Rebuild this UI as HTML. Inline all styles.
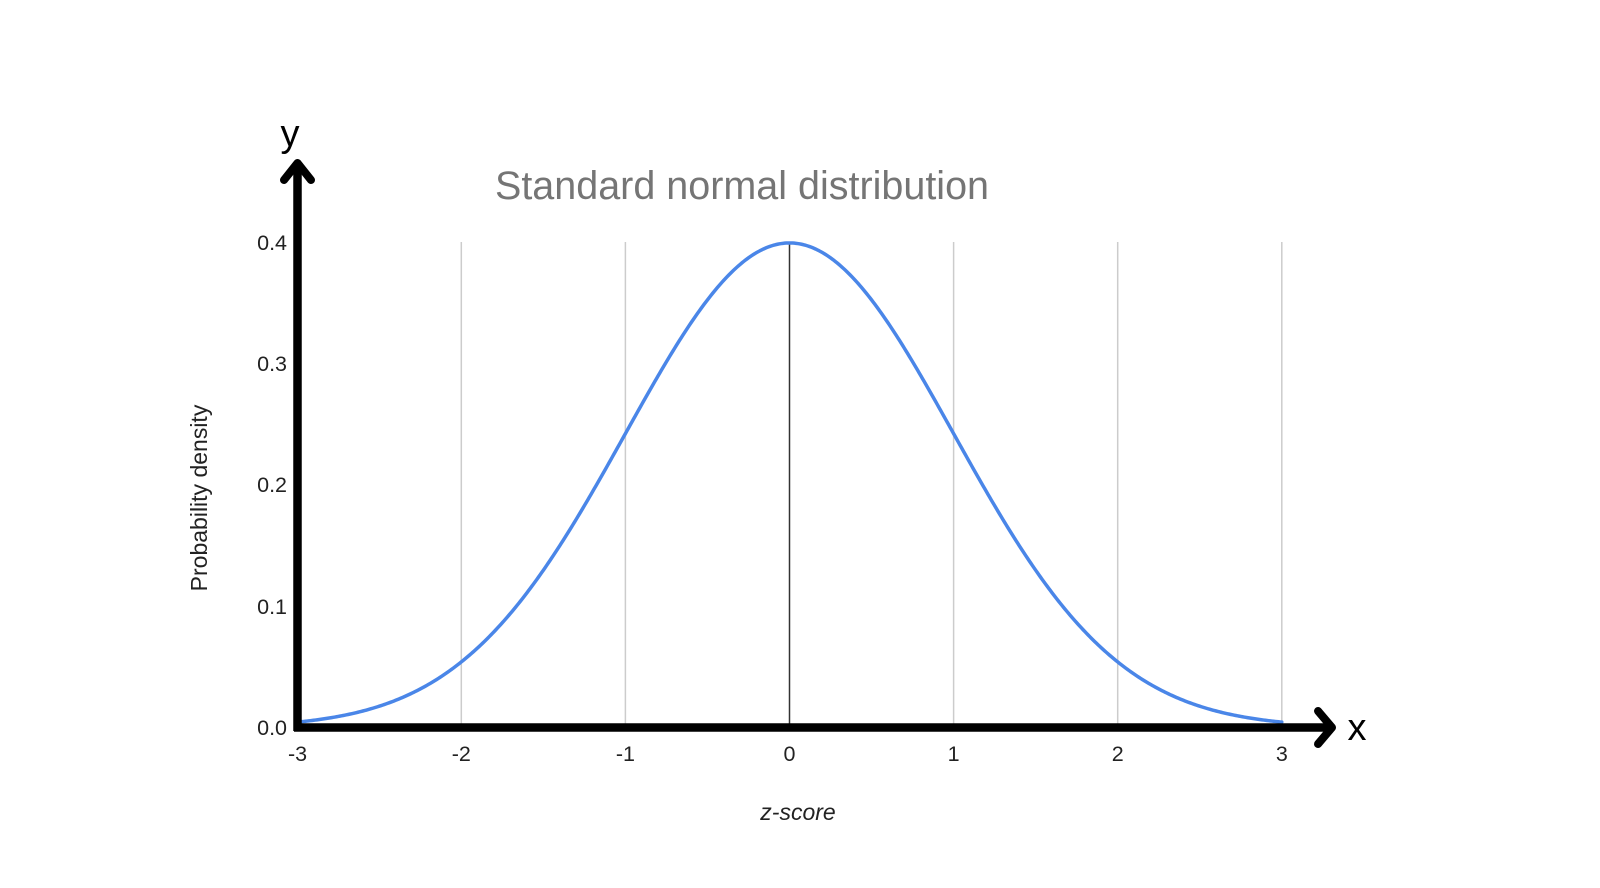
<!DOCTYPE html>
<html><head><meta charset="utf-8"><style>
html,body{margin:0;padding:0;background:#fff;}
svg{display:block;}
</style></head><body>
<svg width="1600" height="888" viewBox="0 0 1600 888" xmlns="http://www.w3.org/2000/svg" font-family="Liberation Sans, Arial, sans-serif">
<rect width="1600" height="888" fill="#fff"/>
<g stroke="#cccccc" stroke-width="1.5">
<line x1="461.3" y1="242" x2="461.3" y2="727"/>
<line x1="625.4" y1="242" x2="625.4" y2="727"/>
<line x1="953.6" y1="242" x2="953.6" y2="727"/>
<line x1="1117.7" y1="242" x2="1117.7" y2="727"/>
<line x1="1281.8" y1="242" x2="1281.8" y2="727"/>
</g>
<line x1="789.5" y1="242" x2="789.5" y2="727" stroke="#333" stroke-width="1.5"/>
<polyline id="curve" fill="none" stroke="#4a86e8" stroke-width="3.5" stroke-linejoin="round" stroke-linecap="round"
points="297.2,722.1 338.2,716.5 379.2,706.2 420.3,688.9 461.3,661.9 502.3,622.7 543.3,570.2 584.4,505.7 625.4,433.6 666.4,361.7 707.4,299.9 748.5,257.9 789.5,242.9 830.5,257.9 871.6,299.9 912.6,361.7 953.6,433.6 994.6,505.7 1035.7,570.2 1076.7,622.7 1117.7,661.9 1158.7,688.9 1199.8,706.2 1240.8,716.5 1281.8,722.1"/>
<script>
(function(){var p=[];for(var i=0;i<=600;i++){var z=-3+i*0.01;var d=Math.exp(-z*z/2)/Math.sqrt(2*Math.PI);p.push((789.5+164.1*z).toFixed(2)+","+(727.5-1214.6*d).toFixed(2));}
document.getElementById("curve").setAttribute("points",p.join(" "));})();
</script>
<line x1="297.5" y1="163" x2="297.5" y2="731" stroke="#000" stroke-width="8.5"/>
<polyline points="284,180 297.5,163 311,180" fill="none" stroke="#000" stroke-width="8" stroke-linecap="round" stroke-linejoin="round"/>
<line x1="294" y1="727.5" x2="1330" y2="727.5" stroke="#000" stroke-width="8.5"/>
<polyline points="1318,711 1332,727.5 1318,744" fill="none" stroke="#000" stroke-width="8" stroke-linecap="round" stroke-linejoin="round"/>
<text x="290" y="146" font-size="38" text-anchor="middle" fill="#000">y</text>
<text x="1357" y="740" font-size="38" text-anchor="middle" fill="#000">x</text>
<text x="742" y="199" font-size="39.5" text-anchor="middle" fill="#757575">Standard normal distribution</text>
<g font-size="21.5" fill="#222" text-anchor="end">
<text x="287" y="735">0.0</text>
<text x="287" y="614">0.1</text>
<text x="287" y="492">0.2</text>
<text x="287" y="371">0.3</text>
<text x="287" y="250">0.4</text>
</g>
<g font-size="21.5" fill="#222" text-anchor="middle">
<text x="297.5" y="761">-3</text>
<text x="461.3" y="761">-2</text>
<text x="625.4" y="761">-1</text>
<text x="789.5" y="761">0</text>
<text x="953.6" y="761">1</text>
<text x="1117.7" y="761">2</text>
<text x="1281.8" y="761">3</text>
</g>
<text x="798" y="820" font-size="23" font-style="italic" text-anchor="middle" fill="#222">z-score</text>
<text transform="translate(207,498) rotate(-90)" font-size="23" text-anchor="middle" fill="#222">Probability density</text>
</svg>
</body></html>
